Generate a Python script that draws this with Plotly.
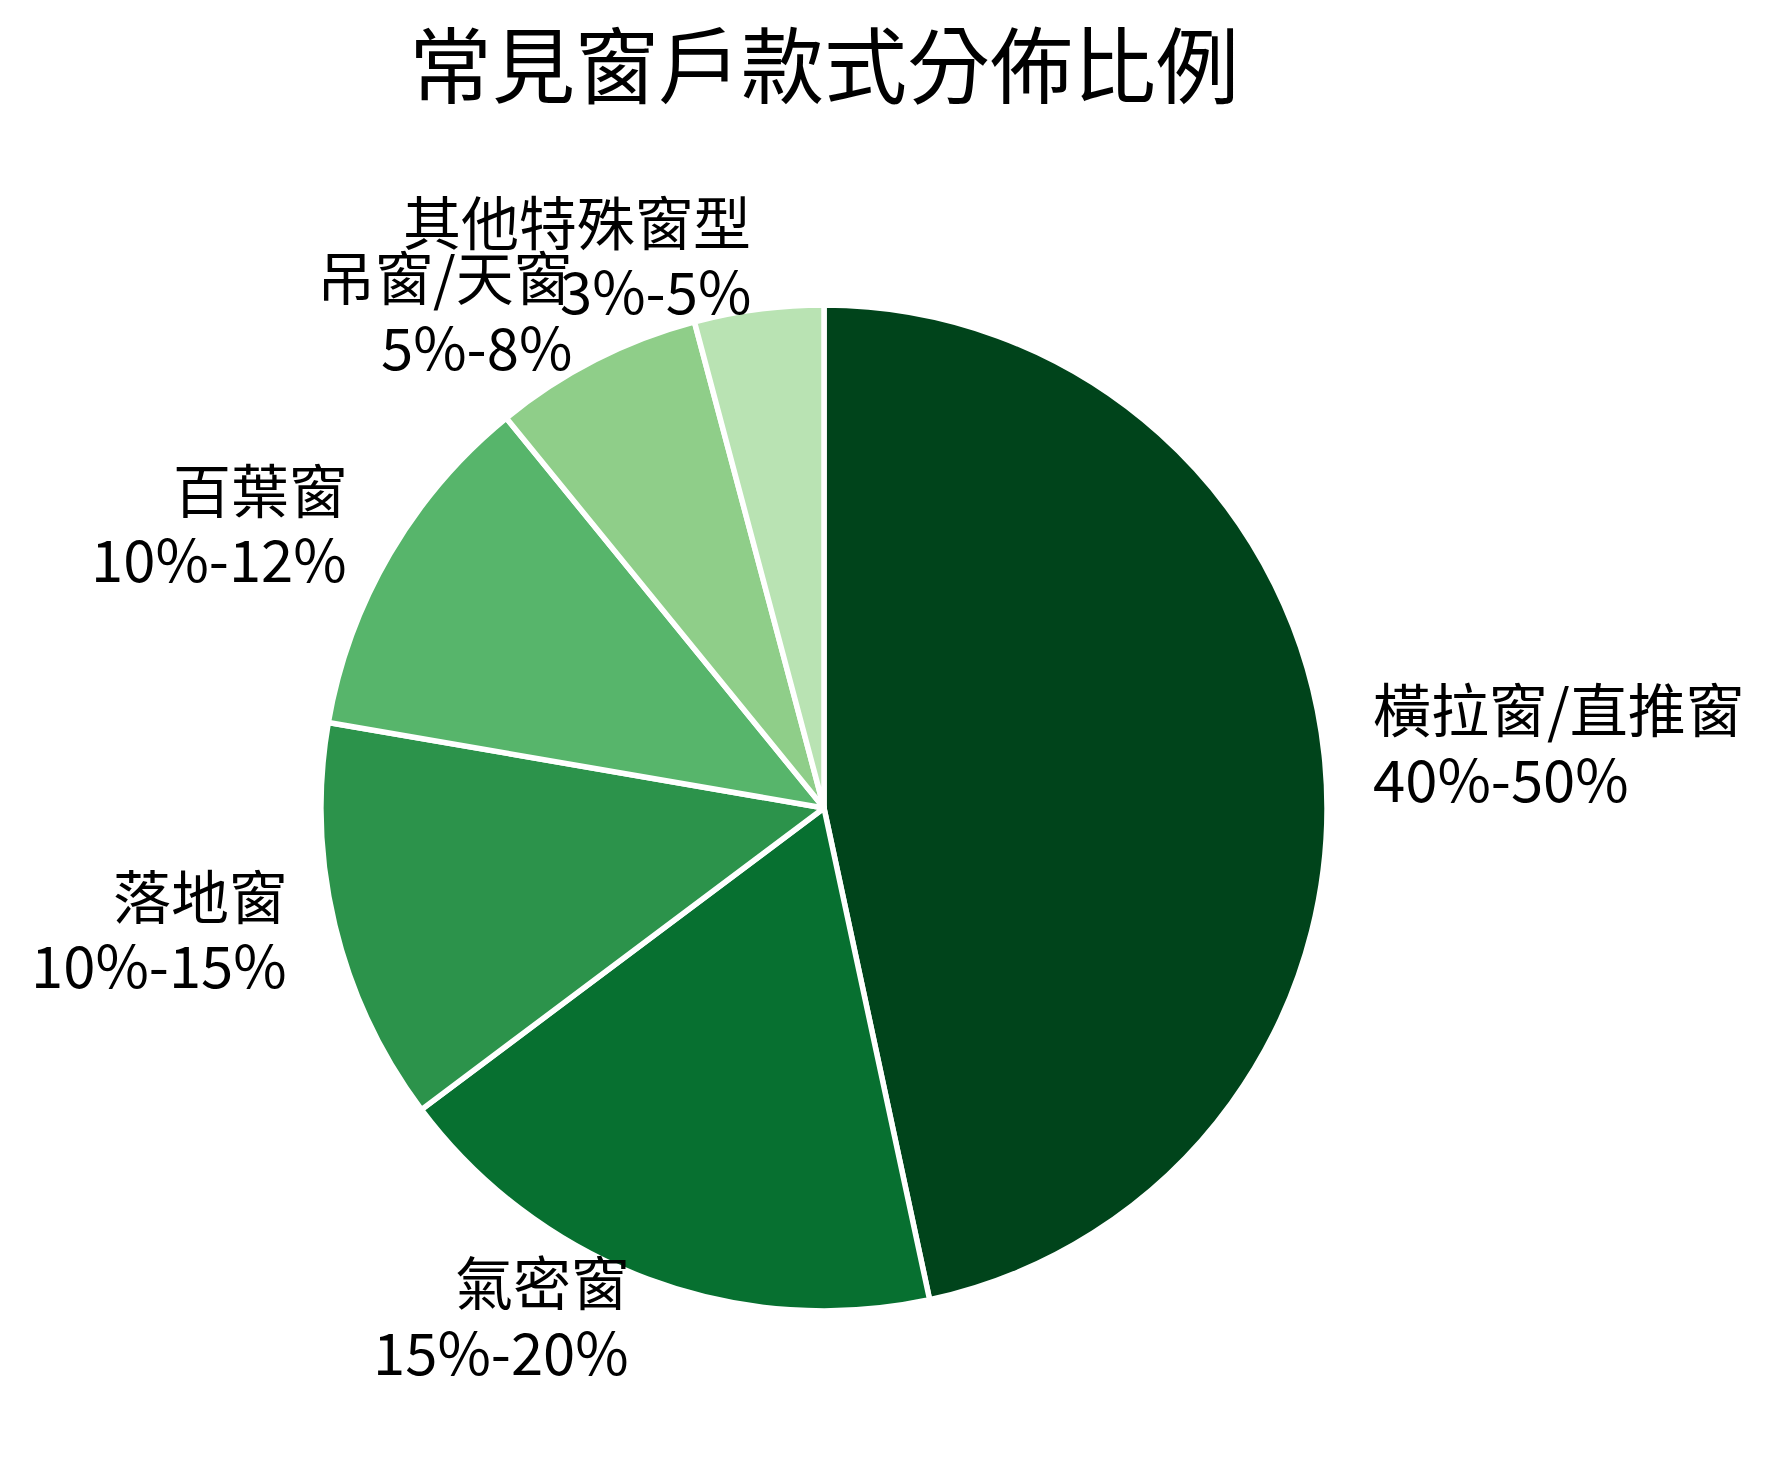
import math
import plotly.graph_objects as go

categories = ["橫拉窗/直推窗", "氣密窗", "落地窗", "百葉窗", "吊窗/天窗", "其他特殊窗型"]
range_labels = ["40%-50%", "15%-20%", "10%-15%", "10%-12%", "5%-8%", "3%-5%"]
values = [45, 17.5, 12.5, 11, 6.5, 4]
colors = ["#00441b", "#077030", "#2c934b", "#57b56b", "#8fce89", "#b9e3b3"]

W, H = 1778, 1468
ML, MR, MT, MB = 100, 230, 305, 157
plot_w = W - ML - MR
plot_h = H - MT - MB
R = min(plot_w, plot_h) / 2.0
R_VIS = R - 3
LABEL_DIST = 1.1
FS = 58
LINE_GAP = 1.2 * FS
Y_ADJ = 8

fig = go.Figure(go.Pie(
    labels=categories,
    values=values,
    textinfo="none",
    sort=False,
    direction="clockwise",
    rotation=0,
    marker=dict(colors=colors, line=dict(color="white", width=5.5)),
    showlegend=False,
    hoverinfo="label+value",
))

total = sum(values)
cum = 0.0
annotations = []
for cat, rng, v in zip(categories, range_labels, values):
    mid = (cum + v / 2.0) / total * 2 * math.pi
    cum += v
    dx = math.sin(mid) * R_VIS * LABEL_DIST
    dy = math.cos(mid) * R_VIS * LABEL_DIST
    xp = 0.5 + dx / plot_w
    yp = 0.5 + dy / plot_h
    anchor = "left" if dx > 0 else "right"
    for txt, shift in ((cat, LINE_GAP / 2.0), (rng, -LINE_GAP / 2.0)):
        annotations.append(dict(
            x=xp, y=yp, xref="paper", yref="paper",
            text=txt, showarrow=False,
            xanchor=anchor, yanchor="middle", align=anchor,
            yshift=shift + Y_ADJ,
            font=dict(size=FS, color="black"),
        ))

fig.update_layout(
    width=W, height=H,
    margin=dict(l=ML, r=MR, t=MT, b=MB),
    paper_bgcolor="white",
    plot_bgcolor="white",
    font=dict(family="Noto Sans CJK TC, Noto Sans, sans-serif", color="black"),
    title=dict(text="常見窗戶款式分佈比例", x=824 / W, xanchor="center",
               xref="container",
               y=1 - 68 / H, yanchor="middle", yref="container",
               font=dict(size=83, color="black")),
    annotations=annotations,
)

fig.write_html("out.html")
